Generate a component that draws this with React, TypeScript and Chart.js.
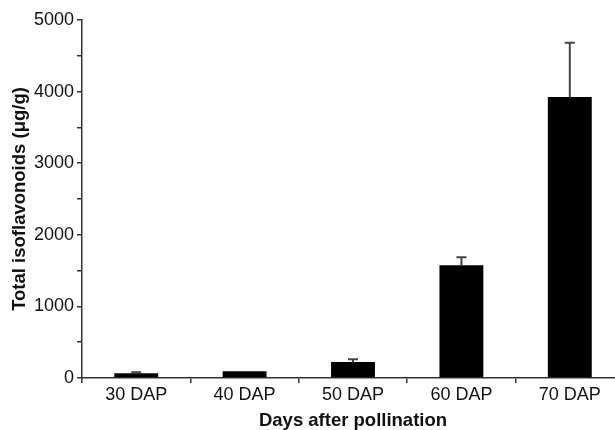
import React, { useEffect, useRef } from "react";
import { Chart, registerables } from "chart.js";

Chart.register(...registerables);

const categories = ["30 DAP", "40 DAP", "50 DAP", "60 DAP", "70 DAP"];
const values = [66, 94, 224, 1576, 3926];
const errors = [14, 0, 38, 112, 755];
const yTicks = [0, 1000, 2000, 3000, 4000, 5000];

const FONT = "'Liberation Sans', Arial, Helvetica, sans-serif";

const errorBarPlugin = {
  id: "errorBars",
  afterDatasetsDraw(chart: any) {
    const { ctx } = chart;
    const y = chart.scales.y;
    const meta = chart.getDatasetMeta(0);
    ctx.save();
    ctx.strokeStyle = "#444";
    ctx.lineWidth = 2;
    meta.data.forEach((bar: any, i: number) => {
      const err = errors[i];
      if (!err) return;
      const xc = bar.x;
      const yBase = y.getPixelForValue(values[i]);
      const yTop = y.getPixelForValue(values[i] + err);
      ctx.beginPath();
      ctx.moveTo(xc, yBase);
      ctx.lineTo(xc, yTop);
      ctx.moveTo(xc - 5, yTop);
      ctx.lineTo(xc + 5, yTop);
      ctx.stroke();
    });
    ctx.restore();
  },
};

export default function App() {
  const ref = useRef<HTMLCanvasElement>(null);
  useEffect(() => {
    document.body.style.margin = "0";
    document.body.style.overflow = "hidden";
    if (!ref.current) return;
    const chart = new Chart(ref.current, {
      type: "bar",
      data: {
        labels: categories,
        datasets: [
          {
            data: values,
            backgroundColor: "#000",
            borderWidth: 0,
            categoryPercentage: 1,
            barPercentage: 0.405,
          },
        ],
      },
      options: {
        responsive: false,
        animation: false,
        devicePixelRatio: 1,
        layout: { padding: { top: 20, right: 6, left: 0, bottom: 0 } },
        plugins: { legend: { display: false }, tooltip: { enabled: false } },
        scales: {
          x: {
            offset: true,
            afterFit: (s: any) => {
              s.height = 52;
            },
            grid: {
              offset: true,
              drawOnChartArea: false,
              drawTicks: true,
              tickLength: 5,
              color: "#333",
              lineWidth: 1.5,
            },
            border: { display: true, color: "#333", width: 1.5 },
            ticks: {
              color: "#111",
              padding: 1,
              font: { family: FONT, size: 18 },
              maxRotation: 0,
            },
            title: {
              display: true,
              text: "Days after pollination",
              color: "#111",
              font: { family: FONT, size: 18.5, weight: "bold" },
              padding: { top: 0, bottom: -2 },
            },
          },
          y: {
            min: 0,
            max: 5000,
            afterFit: (s: any) => {
              s.width = 82;
            },
            ticks: {
              stepSize: 500,
              color: "#111",
              padding: 3,
              font: { family: FONT, size: 18 },
              callback: (v: any) => (yTicks.includes(Number(v)) ? String(v) : ""),
            },
            grid: {
              drawOnChartArea: false,
              drawTicks: true,
              tickLength: 5,
              color: "#333",
              lineWidth: 1.5,
            },
            border: { display: true, color: "#333", width: 1.5 },
            title: {
              display: true,
              text: "Total isoflavonoids (\u03bcg/g)",
              color: "#111",
              font: { family: FONT, size: 18.5, weight: "bold" },
              padding: { top: 8.5, bottom: 0 },
            },
          },
        },
      },
      plugins: [errorBarPlugin],
    });
    return () => chart.destroy();
  }, []);
  return (
    <div
      style={{
        position: "fixed",
        left: 0,
        top: 0,
        width: 615,
        height: 430,
        overflow: "hidden",
        background: "#fff",
      }}
    >
      <canvas ref={ref} width={630} height={430} style={{ width: 630, height: 430, display: "block" }} />
    </div>
  );
}
